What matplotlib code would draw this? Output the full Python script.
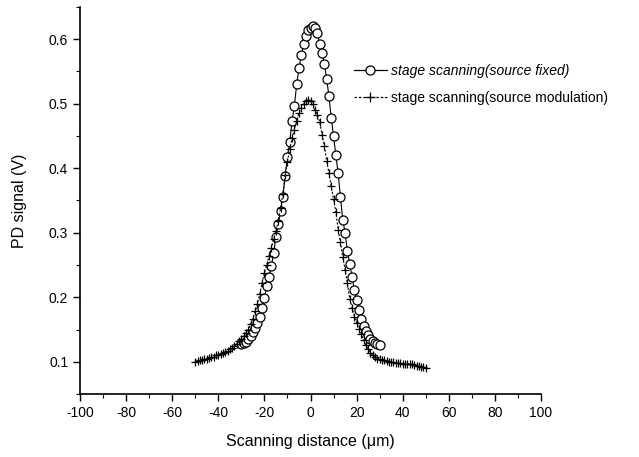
import matplotlib
matplotlib.use("Agg")
import matplotlib.pyplot as plt
from matplotlib.ticker import MultipleLocator
from matplotlib.lines import Line2D

plt.rcParams['font.family'] = ['Liberation Sans', 'DejaVu Sans']

# Data
x_fixed = list(range(-30, 31))
y_fixed = [0.127, 0.129, 0.131, 0.135, 0.140, 0.146, 0.152, 0.160, 0.170, 0.183,
           0.199, 0.217, 0.232, 0.248, 0.268, 0.293, 0.313, 0.334, 0.355, 0.388,
           0.418, 0.441, 0.473, 0.497, 0.530, 0.555, 0.575, 0.592, 0.605, 0.615,
           0.618, 0.621, 0.618, 0.610, 0.592, 0.578, 0.562, 0.538, 0.512, 0.478,
           0.450, 0.420, 0.392, 0.355, 0.320, 0.300, 0.272, 0.252, 0.232, 0.212,
           0.195, 0.180, 0.166, 0.156, 0.148, 0.142, 0.136, 0.132, 0.129, 0.127,
           0.126]

x_mod = list(range(-50, 51))
y_mod = [0.100, 0.101, 0.102, 0.103, 0.104, 0.105, 0.106, 0.107, 0.108, 0.110,
         0.111, 0.112, 0.114, 0.115, 0.117, 0.119, 0.121, 0.124, 0.128, 0.132,
         0.136, 0.140, 0.145, 0.150, 0.158, 0.167, 0.178, 0.190, 0.205, 0.222,
         0.238, 0.250, 0.264, 0.276, 0.290, 0.303, 0.318, 0.338, 0.360, 0.390,
         0.410, 0.430, 0.447, 0.460, 0.474, 0.485, 0.494, 0.500, 0.505, 0.506,
         0.505, 0.500, 0.490, 0.482, 0.472, 0.452, 0.435, 0.412, 0.392, 0.372,
         0.352, 0.332, 0.305, 0.285, 0.262, 0.243, 0.222, 0.198, 0.184, 0.170,
         0.160, 0.151, 0.143, 0.134, 0.126, 0.119, 0.114, 0.110, 0.107, 0.105,
         0.104, 0.103, 0.102, 0.101, 0.100, 0.099, 0.099, 0.098, 0.098, 0.098,
         0.097, 0.097, 0.097, 0.097, 0.096, 0.095, 0.094, 0.093, 0.092, 0.092,
         0.091]

label_fixed = "stage scanning(source fixed)"
label_mod = "stage scanning(source modulation)"
x_ticks = list(range(-100, 101, 20))
y_ticks = [0.1, 0.2, 0.3, 0.4, 0.5, 0.6]

fig = plt.figure(figsize=(6.39, 4.57), dpi=100)
ax = fig.add_axes([80/639, 1-394/457, (541-80)/639, (394-7)/457])

ax.plot(x_fixed, y_fixed, '-', color='black', lw=0.8, marker='o', ms=6.5,
        mfc='white', mec='black', mew=0.9)
ax.plot(x_mod, y_mod, '--', color='black', lw=0.8, dashes=(2, 1.5), marker='+',
        ms=5.8, mec='black', mew=0.9)

ax.set_xlim(-100, 100)
ax.set_ylim(0.05, 0.65)
ax.xaxis.set_minor_locator(MultipleLocator(10))
ax.yaxis.set_minor_locator(MultipleLocator(0.05))
ax.set_yticks(y_ticks)
ax.set_yticklabels([f"{v:.1f}" for v in y_ticks])
ax.set_xticks(x_ticks)
ax.set_xticklabels([str(v) for v in x_ticks])

for s in ['top', 'right']:
    ax.spines[s].set_visible(False)
for s in ['left', 'bottom']:
    ax.spines[s].set_linewidth(1.2)
ax.tick_params(which='major', direction='out', length=5, width=1.0, labelsize=10)
ax.tick_params(which='minor', direction='out', length=3, width=0.8)

ax.set_xlabel("Scanning distance (\u03bcm)", fontsize=11.5, labelpad=10)
ax.set_ylabel("PD signal (V)", fontsize=11.5, labelpad=16)

h1 = Line2D([], [], color='black', lw=0.9, marker='o', ms=6.5, mfc='white', mew=0.9)
h2 = Line2D([], [], color='black', lw=0.9, ls='--', dashes=(2, 1.5), marker='+', ms=6.5, mew=0.9)
leg = fig.legend([h1, h2], [label_fixed, label_mod], loc='upper left',
                 bbox_to_anchor=(348/639, 1-58/457), frameon=False,
                 fontsize=10, handlelength=2.4, handletextpad=0.3,
                 labelspacing=0.95, borderaxespad=0)
leg.get_texts()[0].set_style('italic')

fig.savefig("out.png", dpi=100)
